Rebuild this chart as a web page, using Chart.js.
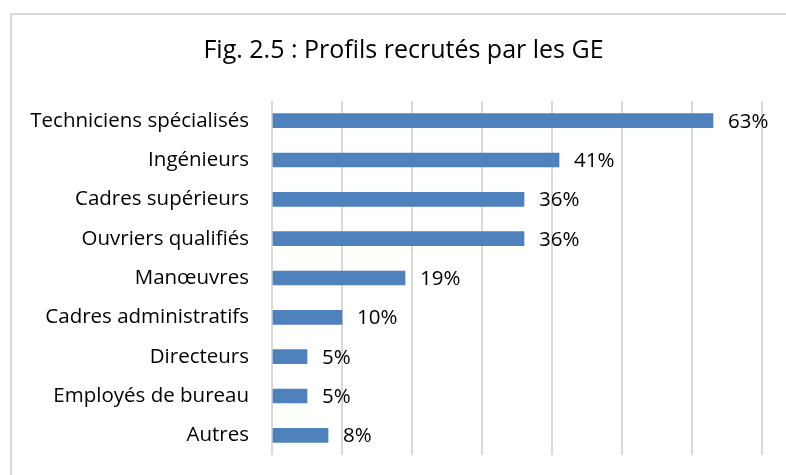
<!DOCTYPE html>
<html>
<head>
<meta charset="utf-8">
<script src="https://cdn.jsdelivr.net/npm/chart.js@4"></script>
<style>
    html, body { margin: 0; padding: 0; background: #fff; overflow: hidden; }
    body { width: 786px; height: 475px; position: relative; }
    #frame {
        position: absolute; left: 10px; top: 13px;
        width: 786px; height: 470px;
        border: 2px solid #d9d9d9;
    }
    #chart { display: block; }
</style>
</head>
<body>
<div id="frame">
    <canvas id="chart" width="786" height="462"></canvas>
</div>
<script>
    const titleText = 'Fig. 2.5 : Profils recrutés par les GE';
    const categories = [
        'Techniciens spécialisés',
        'Ingénieurs',
        'Cadres supérieurs',
        'Ouvriers qualifiés',
        'Manœuvres',
        'Cadres administratifs',
        'Directeurs',
        'Employés de bureau',
        'Autres'
    ];
    const shares = [63, 41, 36, 36, 19, 10, 5, 5, 8];
    const valueLabels = ['63%', '41%', '36%', '36%', '19%', '10%', '5%', '5%', '8%'];

    const fontFamily = '"Open Sans", "Noto Sans", sans-serif';

    // value labels at bar ends
    const barLabels = {
        id: 'barLabels',
        afterDatasetsDraw(chart) {
            const ctx = chart.ctx;
            const meta = chart.getDatasetMeta(0);
            ctx.save();
            ctx.font = '20.5px ' + fontFamily;
            ctx.fillStyle = '#000';
            ctx.textAlign = 'left';
            ctx.textBaseline = 'middle';
            meta.data.forEach((bar, i) => {
                ctx.fillText(valueLabels[i], bar.x + 15, bar.y + 1);
            });
            ctx.restore();
        }
    };

    // left layout padding is only there to centre the title; let the
    // category labels use that space instead of being clipped
    const widenLabels = {
        id: 'widenLabels',
        afterLayout(chart) {
            chart.scales.y.left = 0;
        }
    };

    new Chart(document.getElementById('chart'), {
        type: 'bar',
        data: {
            labels: categories,
            datasets: [{
                data: shares,
                backgroundColor: '#4F81BD',
                borderWidth: 0,
                barThickness: 14
            }]
        },
        options: {
            indexAxis: 'y',
            responsive: false,
            animation: false,
            layout: { padding: { top: 0, right: 36, bottom: 22, left: 33 } },
            plugins: {
                legend: { display: false },
                tooltip: { enabled: false },
                title: {
                    display: true,
                    text: titleText,
                    color: '#000',
                    font: { family: fontFamily, size: 25, weight: 'normal' },
                    padding: { top: 21, bottom: 35 }
                }
            },
            scales: {
                x: {
                    min: 0,
                    max: 70,
                    ticks: { display: false, stepSize: 10 },
                    grid: { color: '#d9d9d9', lineWidth: 2, drawTicks: false },
                    border: { display: false },
                    afterFit(scale) { scale.height = 0; }
                },
                y: {
                    grid: { display: false, drawTicks: false },
                    border: { display: false },
                    ticks: {
                        color: '#000',
                        padding: 23,
                        font: { family: fontFamily, size: 20.5 }
                    },
                    afterFit(scale) {
                        scale.width = 227;
                        scale.paddingTop = 0;
                        scale.paddingBottom = 0;
                    }
                }
            }
        },
        plugins: [barLabels, widenLabels]
    });
</script>
</body>
</html>
